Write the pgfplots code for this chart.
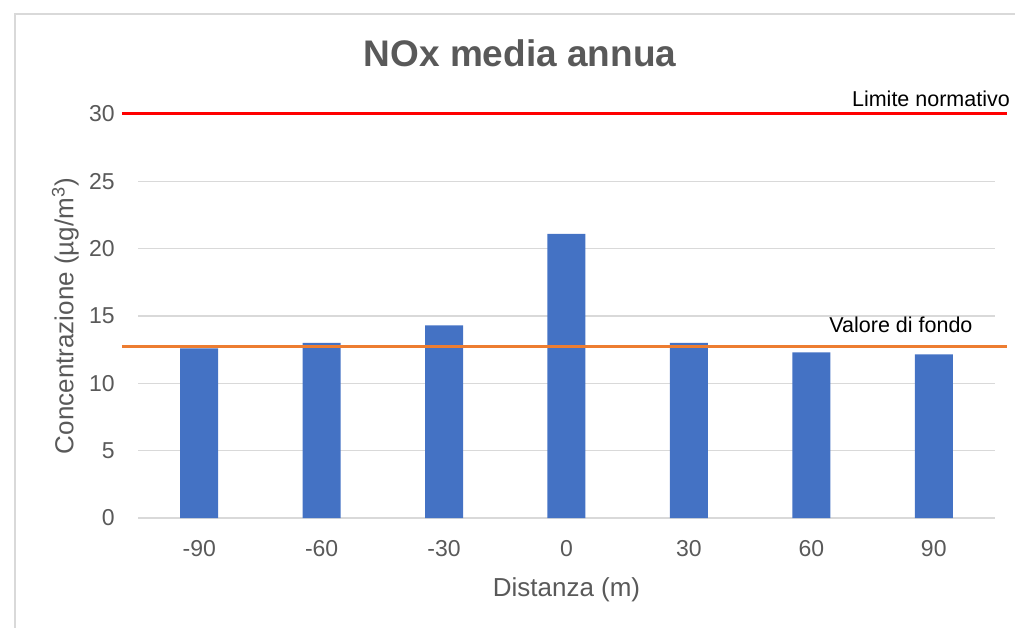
\documentclass[border=0pt]{standalone}
\usepackage{fontspec}
\setmainfont{Liberation Sans}
\usepackage{pgfplots}
\pgfplotsset{compat=1.18}
\definecolor{barblue}{HTML}{4472C4}
\definecolor{fondo}{HTML}{ED7D31}
\definecolor{limite}{HTML}{FF0000}
\definecolor{gridgray}{HTML}{D9D9D9}
\definecolor{txtgray}{HTML}{595959}
\begin{document}
\begin{tikzpicture}
\useasboundingbox (0,0) rectangle (507.5bp,314bp);
\begin{scope}
\clip (0,0) rectangle (507.5bp,314bp);
\draw[gridgray, line width=0.75bp] (7.5bp,-20bp) -- (7.5bp,307bp) -- (530bp,307bp);
\end{scope}
\node[anchor=base, text=txtgray, font=\fontsize{18.5bp}{22bp}\selectfont\bfseries] at (260bp,280.6bp) {NOx media annua};
\begin{axis}[
  at={(69bp,55bp)}, anchor=south west,
  width=428.5bp, height=202bp, scale only axis,
  xmin=-0.5, xmax=6.5, ymin=0, ymax=30,
  clip=false,
  axis line style={draw=none},
  major tick length=0pt,
  xtick={0,1,2,3,4,5,6},
  xticklabels={-90,-60,-30,0,30,60,90},
  ytick={0,5,10,15,20,25,30},
  ymajorgrids,
  grid style={gridgray, line width=0.75bp},
  /pgf/number format/assume math mode=true,
  tick label style={font=\fontsize{11.5bp}{13bp}\selectfont, text=txtgray},
  xticklabel style={inner sep=0pt, anchor=north, yshift=-11bp},
  yticklabel style={inner sep=0pt, anchor=east, xshift=-11.5bp},
  xlabel={Distanza (m)},
  xlabel style={at={(axis description cs:0.5,-0.1931)}, anchor=base, font=\fontsize{13bp}{15bp}\selectfont, text=txtgray},
  ylabel={Concentrazione (µg/m\textsuperscript{3})},
  ylabel style={at={(axis description cs:-0.0755,0.5)}, anchor=base, font=\fontsize{13bp}{15bp}\selectfont, text=txtgray},
]
\addplot[ybar, bar width=19bp, bar shift=0pt, fill=barblue, draw=none] coordinates {
  (0,12.6) (1,13.0) (2,14.3) (3,21.1) (4,13.0) (5,12.3) (6,12.15)
};
\addplot[fondo, line width=1.5bp, mark=none] coordinates {(-0.631,12.7) (6.595,12.7)};
\addplot[limite, line width=1.5bp, mark=none] coordinates {(-0.631,30) (6.595,30)};
\node[anchor=base, font=\fontsize{10.75bp}{12bp}\selectfont] at (axis cs:5.977,30.59) {Limite normativo};
\node[anchor=base, font=\fontsize{10.75bp}{12bp}\selectfont] at (axis cs:5.732,13.79) {Valore di fondo};
\end{axis}
\end{tikzpicture}
\end{document}
